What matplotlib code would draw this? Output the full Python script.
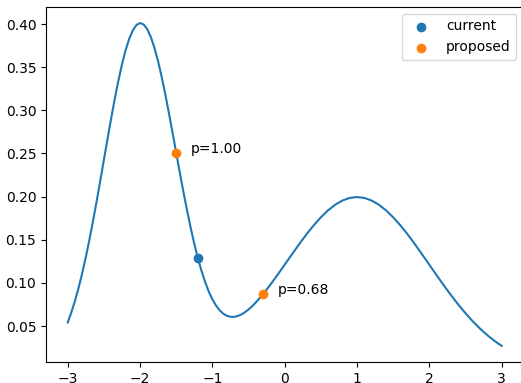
import matplotlib
matplotlib.use("Agg")
import matplotlib.pyplot as plt

# Density curve values
x_vals = [
    -3.00, -2.95, -2.90, -2.85, -2.80, -2.75, -2.70, -2.65, -2.60, -2.55,
    -2.50, -2.45, -2.40, -2.35, -2.30, -2.25, -2.20, -2.15, -2.10, -2.05,
    -2.00, -1.95, -1.90, -1.85, -1.80, -1.75, -1.70, -1.65, -1.60, -1.55,
    -1.50, -1.45, -1.40, -1.35, -1.30, -1.25, -1.20, -1.15, -1.10, -1.05,
    -1.00, -0.95, -0.90, -0.85, -0.80, -0.75, -0.70, -0.65, -0.60, -0.55,
    -0.50, -0.45, -0.40,
    -0.3, -0.2, -0.1, 0.0, 0.1, 0.2, 0.3, 0.4, 0.5, 0.6, 0.7, 0.8, 0.9,
    1.0, 1.1, 1.2, 1.3, 1.4, 1.5, 1.6, 1.7, 1.8, 1.9, 2.0, 2.1, 2.2, 2.3,
    2.4, 2.5, 2.6, 2.7, 2.8, 2.9, 3.0,
]
y_vals = [
    0.05406, 0.06570, 0.07905, 0.09417, 0.11107, 0.12970, 0.14994, 0.17163,
    0.19449, 0.21822, 0.24241, 0.26660, 0.29031, 0.31298, 0.33408, 0.35308,
    0.36946, 0.38279, 0.39267, 0.39886, 0.40116, 0.39952, 0.39402, 0.38483,
    0.37223, 0.35661, 0.33843, 0.31821, 0.29648, 0.27381, 0.25073, 0.22777,
    0.20538, 0.18398, 0.16389, 0.14539, 0.12866, 0.11383, 0.10094, 0.09002,
    0.08099, 0.07378, 0.06828, 0.06436, 0.06187, 0.06067, 0.06061, 0.06155,
    0.06338, 0.06596, 0.06919, 0.07299, 0.07725,
    0.08692, 0.09770, 0.10922, 0.12112, 0.13310, 0.14487, 0.15614, 0.16661,
    0.17603, 0.18414, 0.19069, 0.19552, 0.19848, 0.19947, 0.19848, 0.19552,
    0.19069, 0.18414, 0.17603, 0.16661, 0.15613, 0.14485, 0.13304, 0.12099,
    0.10893, 0.09709, 0.08568, 0.07486, 0.06476, 0.05546, 0.04702, 0.03948,
    0.03281, 0.02700,
]

current_x = [-1.2]
current_y = [0.12866]
proposed_x = [-1.5, -0.3]
proposed_y = [0.25073, 0.08692]
proposed_labels = ["p=1.00", "p=0.68"]

fig = plt.figure(figsize=(5.21, 3.83), dpi=100)
ax = fig.add_axes([0.0883, 0.0548, 0.9163, 0.9272])
ax.plot(x_vals, y_vals, color="C0")
ax.scatter(current_x, current_y, color="C0", label="current", zorder=3)
ax.scatter(proposed_x, proposed_y, color="C1", label="proposed", zorder=3)
for px, py, lab in zip(proposed_x, proposed_y, proposed_labels):
    ax.text(px + 0.2, py, lab)
ax.legend(loc="upper right")
fig.savefig("out.png", dpi=100)
